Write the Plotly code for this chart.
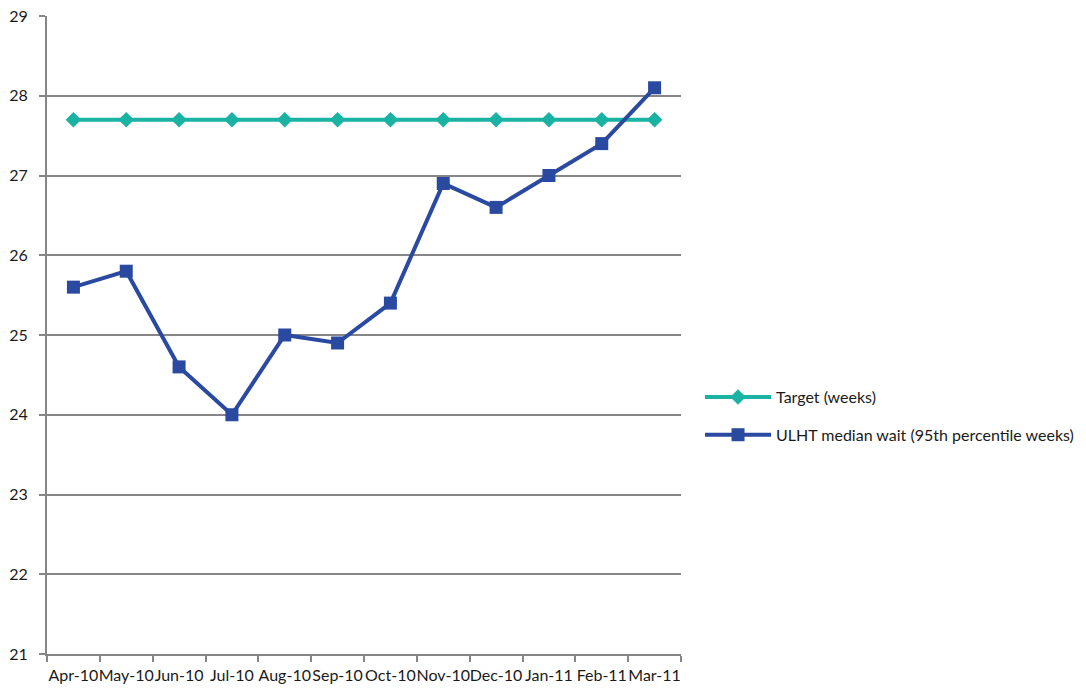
import plotly.graph_objects as go

months = ["Apr-10", "May-10", "Jun-10", "Jul-10", "Aug-10", "Sep-10",
          "Oct-10", "Nov-10", "Dec-10", "Jan-11", "Feb-11", "Mar-11"]
target_weeks = [27.7] * 12
ulht_wait = [25.6, 25.8, 24.6, 24.0, 25.0, 24.9, 25.4, 26.9, 26.6, 27.0, 27.4, 28.1]
y_ticks = [21, 22, 23, 24, 25, 26, 27, 28, 29]

grey = "#868686"
font = dict(family="Lato, 'Open Sans', sans-serif", size=16, color="#1a1a1a")

fig = go.Figure()
fig.add_trace(go.Scatter(
    x=months, y=target_weeks, name="Target (weeks)",
    mode="lines+markers", legendgroup="a",
    line=dict(color="#1AB3A3", width=4),
    marker=dict(symbol="diamond", size=12, color="#1AB3A3"),
))
fig.add_trace(go.Scatter(
    x=months, y=ulht_wait, name="ULHT median wait (95th percentile weeks)",
    mode="lines+markers", legendgroup="b",
    line=dict(color="#2A49A0", width=4),
    marker=dict(symbol="square", size=13, color="#2A49A0"),
))

fig.update_layout(
    width=1086, height=690,
    margin=dict(l=47, r=405, t=16, b=36, autoexpand=False),
    paper_bgcolor="white", plot_bgcolor="white",
    font=font,
    showlegend=True,
    legend=dict(x=1.03, y=0.373, xanchor="left", yanchor="middle",
                font=font, traceorder="grouped", tracegroupgap=14,
                itemwidth=66, bgcolor="rgba(0,0,0,0)"),
    xaxis=dict(
        type="category", showgrid=False,
        showline=True, linecolor=grey, linewidth=2,
        ticks="outside", tickson="boundaries", ticklen=6,
        tickcolor=grey, tickwidth=2, tickangle=0, automargin=False,
        range=[-0.5, 11.5], tickfont=font, ticklabelstandoff=6,
    ),
    yaxis=dict(
        range=[21, 29], tickvals=y_ticks,
        showgrid=True, gridcolor=grey, gridwidth=2,
        showline=True, linecolor=grey, linewidth=2,
        ticks="outside", ticklen=6, tickcolor=grey, tickwidth=2,
        zeroline=False, tickfont=font, ticklabelstandoff=8, automargin=False,
    ),
)

fig.write_html("out.html")
